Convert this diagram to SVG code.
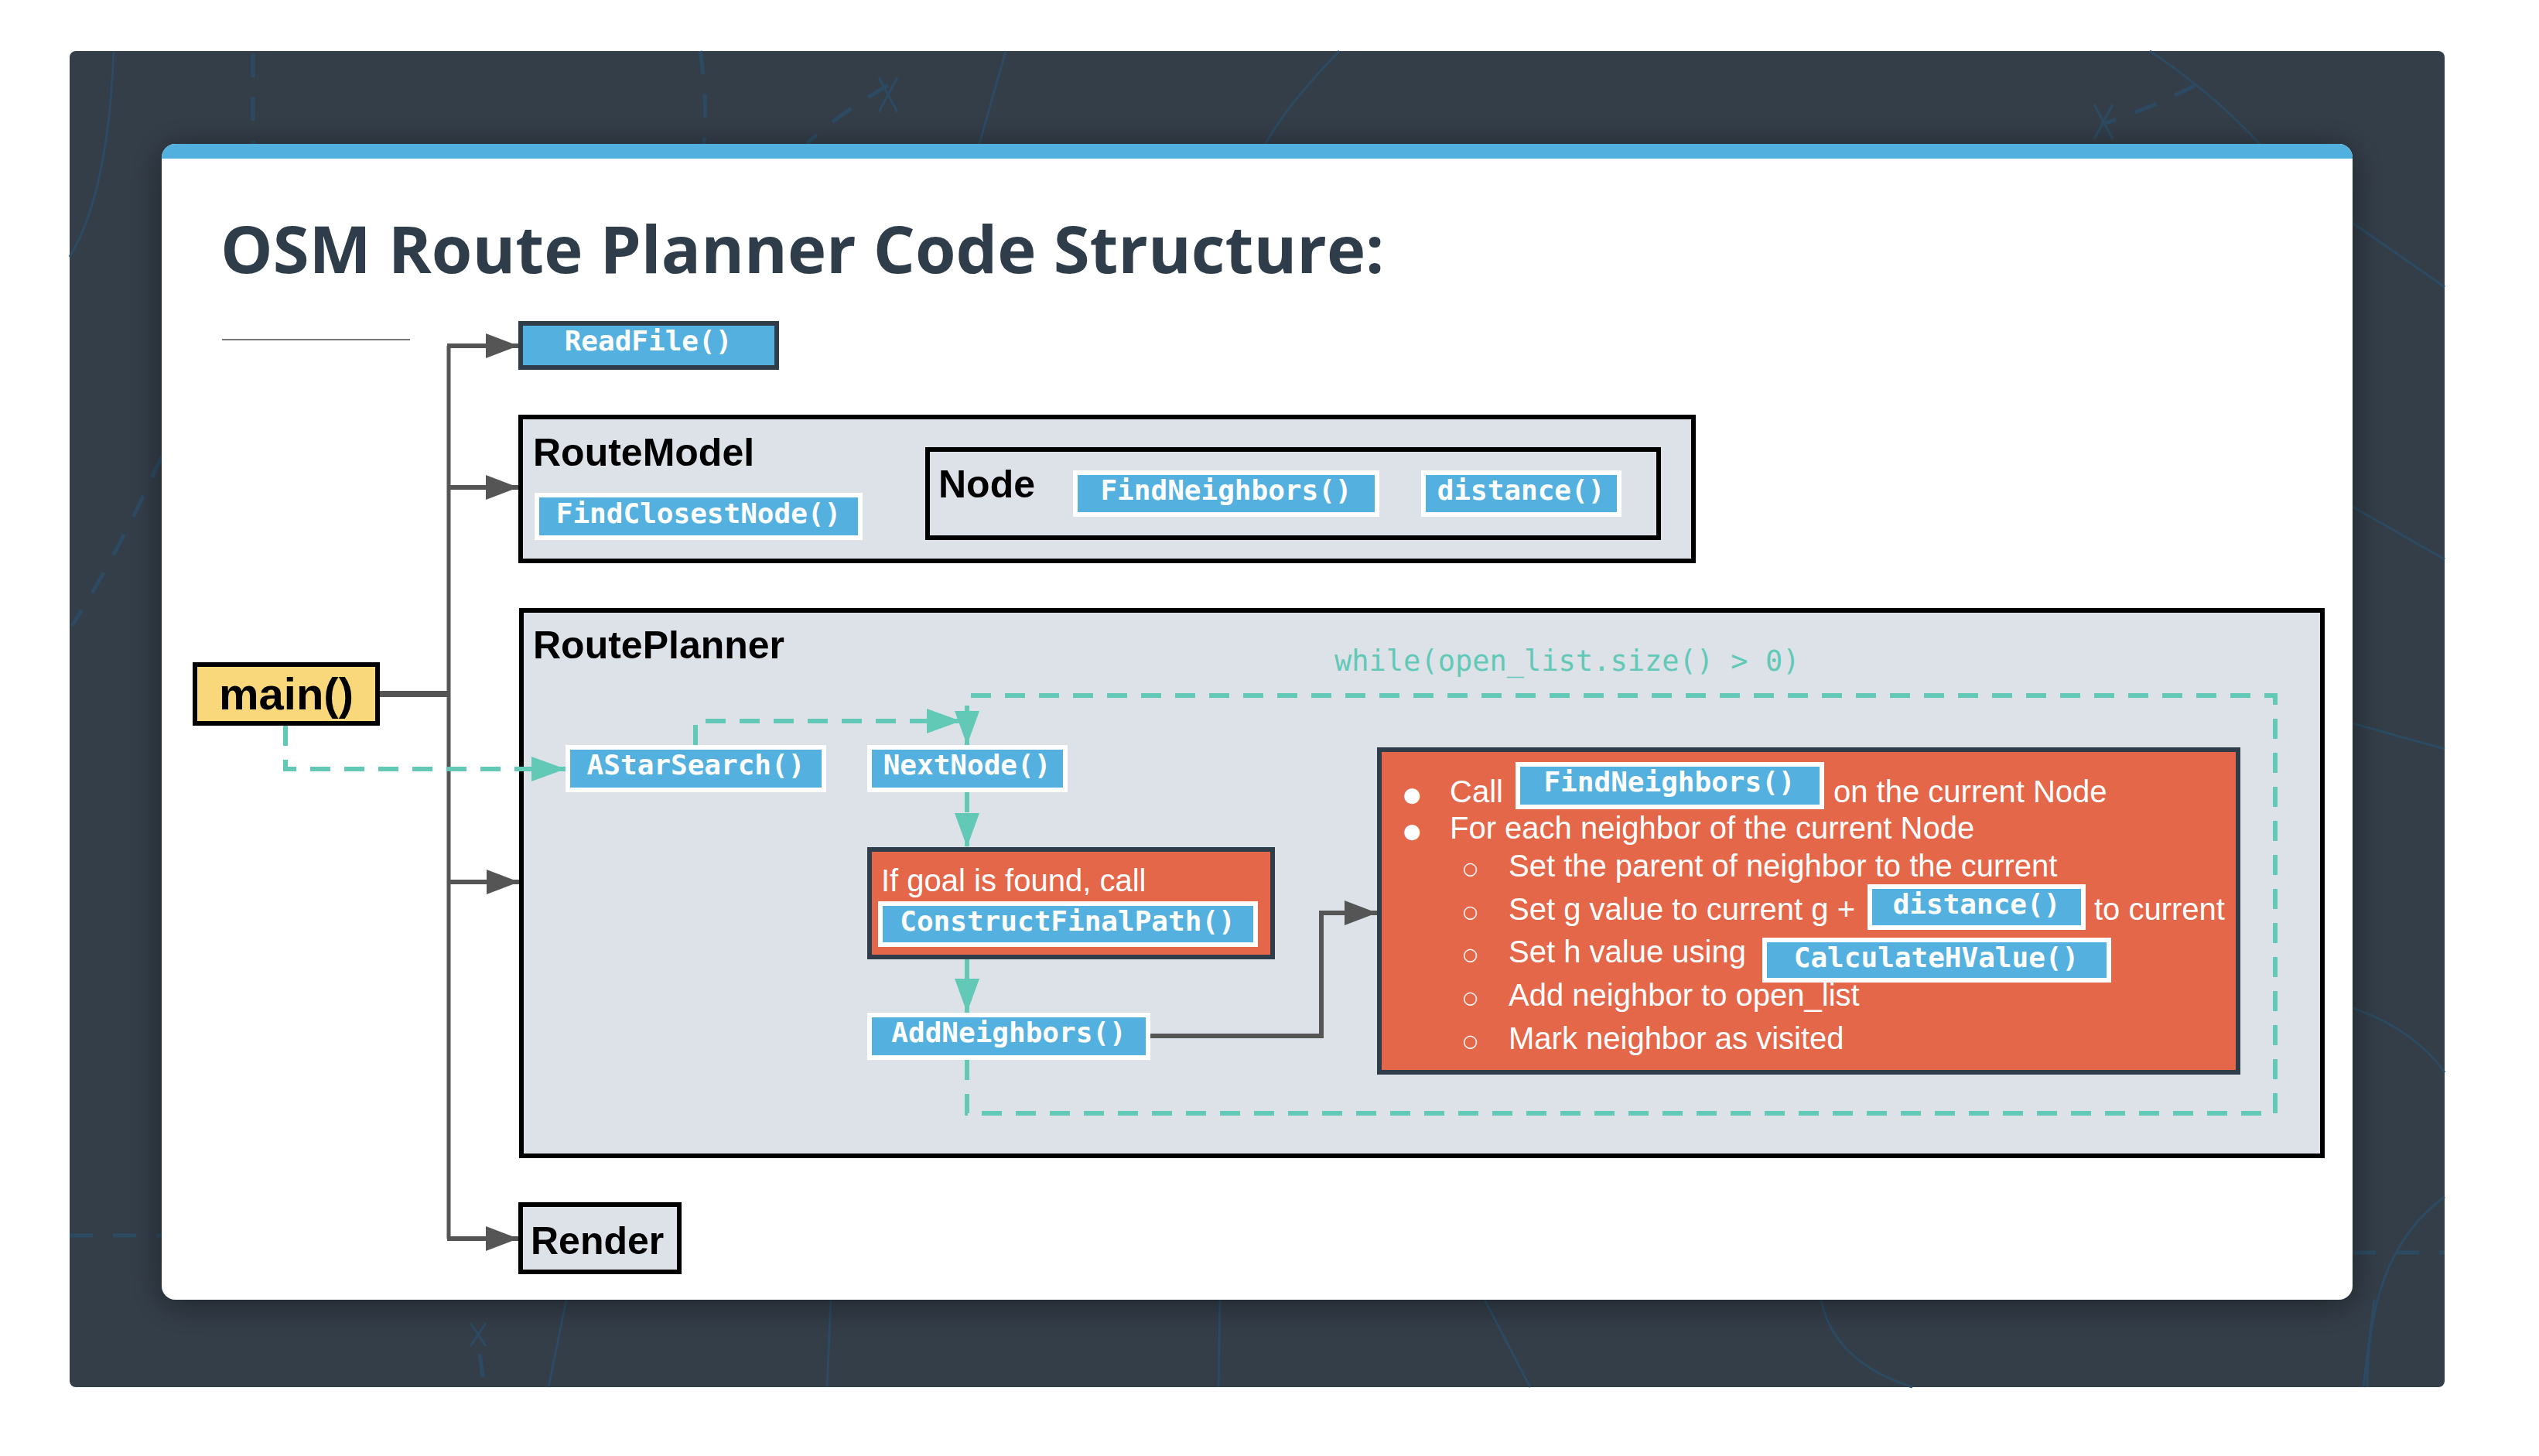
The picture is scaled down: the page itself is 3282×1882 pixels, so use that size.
<svg xmlns="http://www.w3.org/2000/svg" width="3282" height="1882" viewBox="0 0 3282 1882">
<defs>
<style>
.deco{fill:none;stroke:#2c4b62;stroke-width:3}
.decod{fill:none;stroke:#2c4b62;stroke-width:5;stroke-dasharray:30 26}
.cont{fill:#dde1e8;stroke:#000;stroke-width:6}
.lbl{font-family:"Liberation Sans",Arial,sans-serif;font-weight:bold;font-size:50px;fill:#000}
.fn{fill:#54b1df;stroke:#fff;stroke-width:6}
.fnt{font-family:"DejaVu Sans Mono","Liberation Mono",monospace;font-weight:bold;font-size:36px;fill:#fff;text-anchor:middle}
.orange{fill:#e5674a;stroke:#2e3d49;stroke-width:6}
.wt{font-family:"Liberation Sans",Arial,sans-serif;font-size:40px;fill:#fff}
.dot{font-family:"DejaVu Sans",sans-serif;font-size:26px;fill:#fff}
.bul{font-family:"DejaVu Sans",sans-serif;font-size:22px;fill:#fff}
.grey{fill:none;stroke:#555;stroke-width:6}
.teal{fill:none;stroke:#62c9b7;stroke-width:6;stroke-dasharray:26 18}
</style>
<marker id="ag" markerUnits="userSpaceOnUse" markerWidth="42" markerHeight="32" refX="42" refY="16" orient="auto"><path d="M0,0 L42,16 L0,32 Z" fill="#555"/></marker>
<marker id="at" markerUnits="userSpaceOnUse" markerWidth="44" markerHeight="32" refX="44" refY="16" orient="auto"><path d="M0,0 L44,16 L0,32 Z" fill="#62c9b7"/></marker>
<clipPath id="cardclip"><rect x="209" y="186" width="2832" height="1494" rx="18"/></clipPath>
<filter id="shadow" x="-10%" y="-10%" width="120%" height="120%"><feGaussianBlur in="SourceAlpha" stdDeviation="22"/><feOffset dy="6"/><feComponentTransfer><feFuncA type="linear" slope="0.45"/></feComponentTransfer><feMerge><feMergeNode/><feMergeNode in="SourceGraphic"/></feMerge></filter>
</defs>
<rect width="3282" height="1882" fill="#fff"/>
<g id="background">
<rect x="90" y="66" width="3070" height="1727" rx="8" fill="#343e49"/>
<path class="deco" d="M147,66 Q140,250 90,332"/>
<path class="decod" d="M327,70 V186"/>
<path class="decod" d="M209,590 Q150,720 93,809"/>
<path class="decod" d="M905,66 Q915,130 910,186"/>
<path class="decod" d="M1148,110 Q1080,150 1043,186"/>
<path class="deco" d="M1136,100 L1160,145 M1160,100 L1136,145"/>
<path class="deco" d="M1300,66 L1266,186"/>
<path class="deco" d="M1731,66 Q1660,140 1636,186"/>
<path class="deco" d="M2779,66 Q2860,120 2921,186"/>
<path class="decod" d="M2838,110 Q2780,140 2719,160"/>
<path class="deco" d="M2707,135 L2731,180 M2731,135 L2707,180"/>
<path class="deco" d="M3041,288 L3160,371"/>
<path class="deco" d="M3041,655 L3160,723"/>
<path class="deco" d="M3041,935 L3160,968"/>
<path class="deco" d="M3041,1303 Q3120,1330 3160,1386"/>
<path class="deco" d="M3160,1547 Q3060,1620 3060,1793" stroke-width="5"/>
<path class="decod" d="M3041,1619 H3160"/>
<path class="decod" d="M90,1597 H209"/>
<path class="deco" d="M732,1680 L709,1793"/>
<path class="deco" d="M1074,1680 L1069,1793"/>
<path class="deco" d="M1577,1680 L1575,1793"/>
<path class="deco" d="M1919,1680 L1978,1793"/>
<path class="deco" d="M2354,1680 Q2370,1760 2472,1793" stroke-width="5"/>
<path class="deco" d="M3069,1680 L3055,1793"/>
<path class="deco" d="M608,1710 L628,1740 M628,1710 L608,1740"/>
<path class="decod" d="M620,1750 L626,1793"/>
</g>
<g id="card">
<rect x="209" y="186" width="2832" height="1494" rx="18" fill="#fff" filter="url(#shadow)"/>
<rect x="209" y="186" width="2832" height="19" fill="#52b0de" clip-path="url(#cardclip)"/>
</g>
<text id="title" x="285" y="353" font-family="'Open Sans',sans-serif" font-weight="bold" font-size="85" fill="#2e3d49">OSM Route Planner Code Structure:</text>
<line x1="287" y1="439" x2="530" y2="439" stroke="#777" stroke-width="2"/>
<g id="node-routemodel">
<rect class="cont" x="673" y="539" width="1516" height="186"/>
<text class="lbl" x="689" y="602">RouteModel</text>
</g>
<g id="node-findclosestnode">
<rect class="fn" x="694" y="640" width="418" height="55"/>
<text class="fnt" x="903" y="676">FindClosestNode()</text>
</g>
<g id="node-node">
<rect class="cont" x="1199" y="581" width="945" height="114"/>
<text class="lbl" x="1213" y="643">Node</text>
</g>
<g id="node-findneighbors-node">
<rect class="fn" x="1390" y="611" width="390" height="54"/>
<text class="fnt" x="1585" y="646">FindNeighbors()</text>
</g>
<g id="node-distance-node">
<rect class="fn" x="1840" y="611" width="253" height="54"/>
<text class="fnt" x="1966" y="646">distance()</text>
</g>
<g id="node-routeplanner">
<rect class="cont" x="674" y="789" width="2328" height="705"/>
<text class="lbl" x="689" y="851">RoutePlanner</text>
</g>
<g id="node-render">
<rect class="cont" x="673" y="1557" width="205" height="87"/>
<text class="lbl" x="686" y="1621">Render</text>
</g>
<g id="node-readfile">
<rect x="673" y="418" width="331" height="57" fill="#54b1df" stroke="#2e3d49" stroke-width="6"/>
<text class="fnt" x="838" y="453">ReadFile()</text>
</g>
<g id="connectors">
<path d="M491,897 H580" fill="none" stroke="#555" stroke-width="8"/>
<path d="M580,1601 V447" fill="none" stroke="#555" stroke-width="5"/>
<path class="grey" d="M578,447 H670" marker-end="url(#ag)"/>
<path class="grey" d="M578,630 H670" marker-end="url(#ag)"/>
<path class="grey" d="M578,1140 H671" marker-end="url(#ag)"/>
<path class="grey" d="M578,1601 H670" marker-end="url(#ag)"/>
<path class="teal" d="M369,938 V994 H731" marker-end="url(#at)"/>
<path class="teal" d="M899,963 V932 H1242" marker-end="url(#at)"/>
<path class="teal" d="M1250,1024 V1095" marker-end="url(#at)"/>
<path class="teal" d="M1250,1240 V1309" marker-end="url(#at)"/>
<path class="teal" d="M1250,1370 V1439 H2941 V899 H1250 V963" marker-end="url(#at)"/>
<path class="grey" d="M1487,1339 H1708 V1180 H1780" stroke-width="5" marker-end="url(#ag)"/>
<text x="1725" y="867" font-family="'DejaVu Sans Mono',monospace" font-size="37" fill="#62c9b7">while(open_list.size() &gt; 0)</text>
</g>
<g id="node-main">
<rect x="252" y="859" width="236" height="76" fill="#f8d87a" stroke="#000" stroke-width="6"/>
<text x="370" y="917" font-family="'Liberation Sans',Arial,sans-serif" font-weight="bold" font-size="58" text-anchor="middle">main()</text>
</g>
<g id="node-astarsearch">
<rect class="fn" x="734" y="966" width="331" height="55"/>
<text class="fnt" x="899.500" y="1001">AStarSearch()</text>
</g>
<g id="node-nextnode">
<rect class="fn" x="1124" y="966" width="253" height="55"/>
<text class="fnt" x="1250" y="1001">NextNode()</text>
</g>
<g id="node-goal">
<rect class="orange" x="1124" y="1098" width="521" height="139"/>
<text class="wt" x="1139" y="1152" font-size="42">If goal is found, call</text>
<rect class="fn" x="1138" y="1168" width="485" height="53"/>
<text class="fnt" x="1380" y="1203">ConstructFinalPath()</text>
</g>
<g id="node-addneighbors">
<rect class="fn" x="1124" y="1312" width="360" height="55"/>
<text class="fnt" x="1304" y="1347">AddNeighbors()</text>
</g>
<g id="node-neighbors-steps">
<rect class="orange" x="1783" y="969" width="1110" height="417"/>
<text class="dot" x="1814" y="1036">●</text>
<text class="wt" x="1874" y="1037">Call</text>
<rect class="fn" x="1962" y="988" width="393" height="55"/>
<text class="fnt" x="2158" y="1023">FindNeighbors()</text>
<text class="wt" x="2370" y="1037">on the current Node</text>
<text class="dot" x="1814" y="1083">●</text>
<text class="wt" x="1874" y="1084">For each neighbor of the current Node</text>
<text class="bul" x="1891" y="1130">○</text>
<text class="wt" x="1950" y="1133">Set the parent of neighbor to the current</text>
<text class="bul" x="1891" y="1186">○</text>
<text class="wt" x="1950" y="1189">Set g value to current g +</text>
<rect class="fn" x="2417" y="1146" width="276" height="53"/>
<text class="fnt" x="2555" y="1181">distance()</text>
<text class="wt" x="2707" y="1189">to current</text>
<text class="bul" x="1891" y="1241">○</text>
<text class="wt" x="1950" y="1244">Set h value using</text>
<rect class="fn" x="2281" y="1215" width="445" height="52"/>
<text class="fnt" x="2503" y="1250">CalculateHValue()</text>
<text class="bul" x="1891" y="1297">○</text>
<text class="wt" x="1950" y="1300">Add neighbor to open_list</text>
<text class="bul" x="1891" y="1353">○</text>
<text class="wt" x="1950" y="1356">Mark neighbor as visited</text>
</g>
</svg>
